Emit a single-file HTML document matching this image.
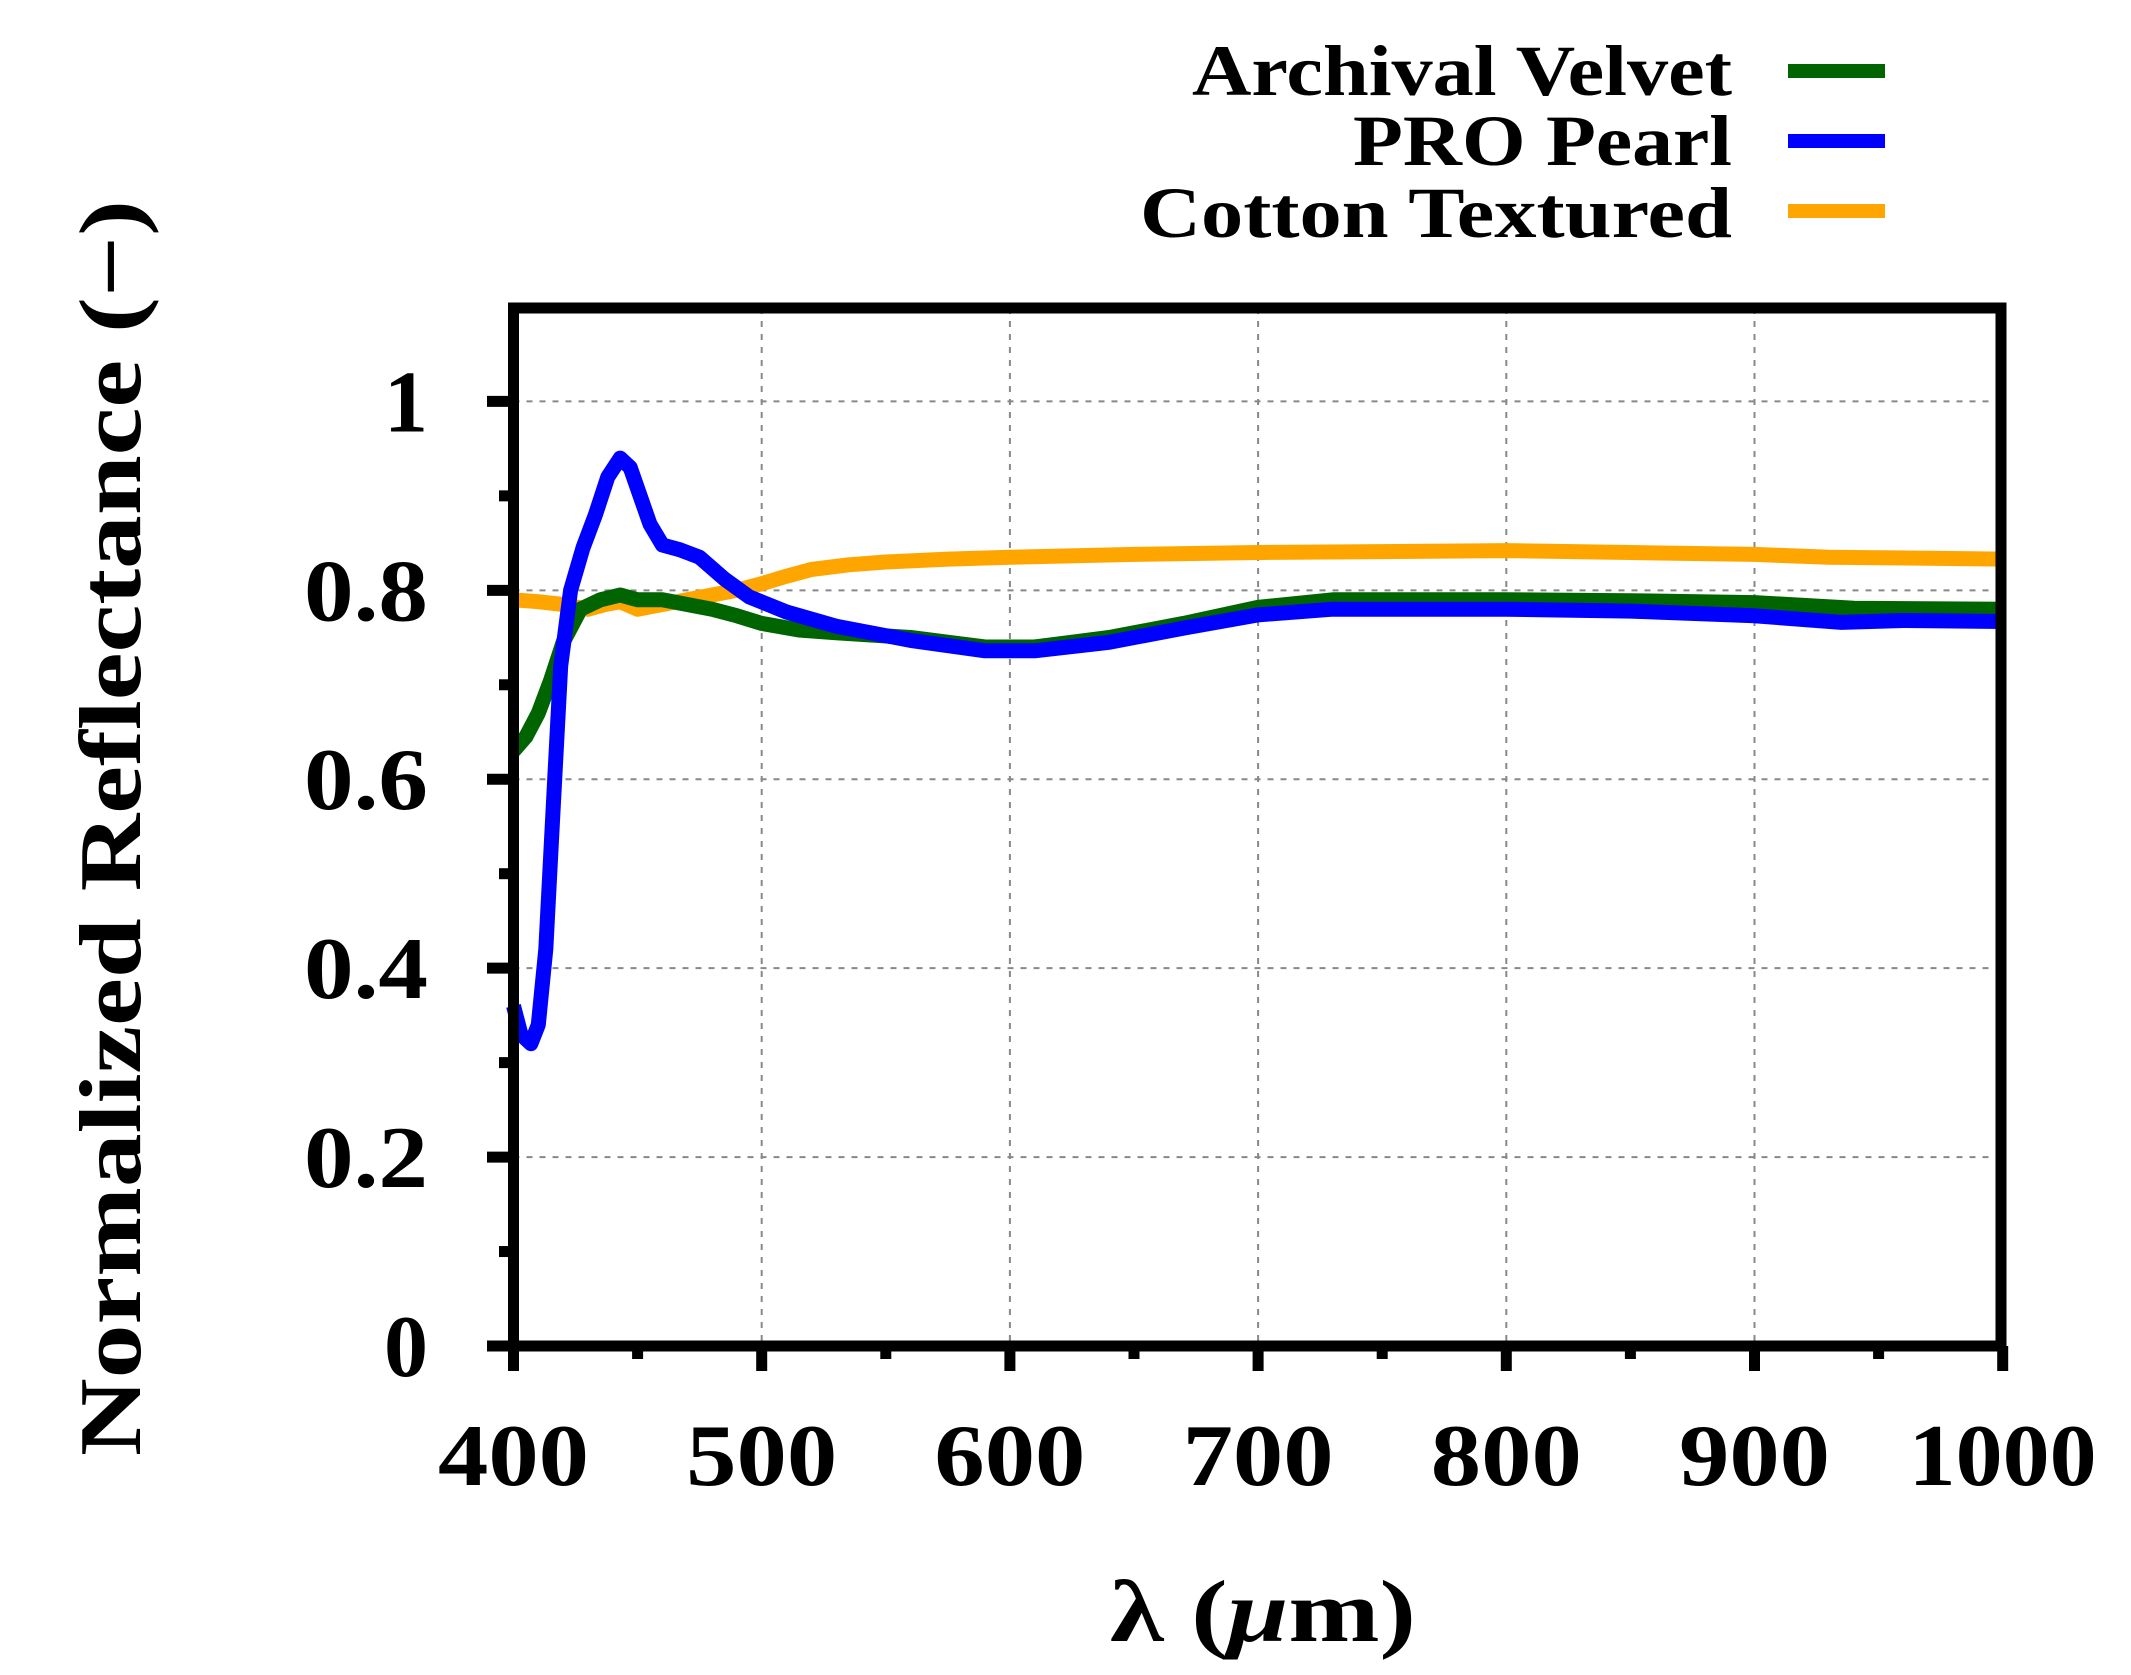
<!DOCTYPE html>
<html><head><meta charset="utf-8"><style>
html,body{margin:0;padding:0;background:#fff;}
svg{display:block;}
text{font-family:"Liberation Serif",serif;font-weight:bold;fill:#000;}
</style></head><body>
<svg id="s" width="2131" height="1675" viewBox="0 0 2131 1675" xmlns="http://www.w3.org/2000/svg">
<g id="grid" stroke="#888" stroke-width="2" stroke-dasharray="6,7" fill="none"></g>
<g id="series" fill="none" stroke-width="15" stroke-linejoin="round" stroke-linecap="butt"></g>
<rect x="513.5" y="308" width="1487.5" height="1038" fill="none" stroke="#000" stroke-width="11"/>
<g id="ticks" stroke="#000" stroke-width="11"></g>
<g id="labels" font-size="88"></g>
<g font-size="72" text-anchor="end">
<text x="1732" y="95" textLength="540" lengthAdjust="spacingAndGlyphs">Archival Velvet</text>
<text x="1732" y="165" textLength="379" lengthAdjust="spacingAndGlyphs">PRO Pearl</text>
<text x="1732" y="237" textLength="592" lengthAdjust="spacingAndGlyphs">Cotton Textured</text>
</g>
<line x1="1788" y1="71" x2="1885" y2="71" stroke="#006400" stroke-width="14"/>
<line x1="1788" y1="141" x2="1885" y2="141" stroke="#0000ff" stroke-width="14"/>
<line x1="1788" y1="211" x2="1885" y2="211" stroke="#ffa500" stroke-width="14"/>
<text x="1263" y="1641" font-size="88" text-anchor="middle" textLength="306" lengthAdjust="spacingAndGlyphs">λ (<tspan font-style="italic">μ</tspan>m)</text>
<text transform="translate(140,828) rotate(-90)" font-size="88" text-anchor="middle" textLength="1256" lengthAdjust="spacingAndGlyphs">Normalized Reflectance (−)</text>
</svg>
<script>
var NS="http://www.w3.org/2000/svg";
function X(w){return 513.5+(w-400)*2.482;}
function Y(r){return 1346-r*944.6;}
function el(p,t,a){var e=document.createElementNS(NS,t);for(var k in a)e.setAttribute(k,a[k]);document.getElementById(p).appendChild(e);return e;}
for(var w=500;w<1000;w+=100)el("grid","line",{x1:X(w),y1:308,x2:X(w),y2:1346});
for(var r=0.2;r<1.05;r+=0.2)el("grid","line",{x1:513.5,y1:Y(r),x2:2001,y2:Y(r)});
for(var w=400;w<=1000;w+=50){var maj=(w%100==0);el("ticks","line",{x1:X(w),y1:1346,x2:X(w),y2:maj?1371:1359});
 if(maj){var t=el("labels","text",{x:X(w),y:1485,"text-anchor":"middle",textLength:(w==1000?188:151),lengthAdjust:"spacingAndGlyphs"});t.textContent=w;}}
for(var i=0;i<=10;i++){var r=i/10,maj=(i%2==0);el("ticks","line",{x1:513.5,y1:Y(r),x2:maj?487:499,y2:Y(r)});
 if(maj){var a={x:428,y:Y(r)+30,"text-anchor":"end"};if(i>0&&i<10){a.textLength=124;a.lengthAdjust="spacingAndGlyphs";}
 var t=el("labels","text",a);t.textContent=(i==0?"0":i==10?"1":(r.toFixed(1)));}}
var D={
"#ffa500":[[400,0.79],[410,0.788],[420,0.785],[430,0.78],[437,0.785],[443,0.788],[450,0.78],[460,0.785],[470,0.79],[480,0.795],[490,0.8],[500,0.807],[510,0.815],[520,0.822],[535,0.827],[550,0.83],[575,0.833],[600,0.835],[650,0.838],[700,0.84],[750,0.841],[800,0.842],[850,0.84],[900,0.838],[930,0.835],[970,0.834],[1000,0.833]],
"#006400":[[400,0.63],[405,0.645],[410,0.67],[415,0.705],[420,0.745],[427,0.78],[435,0.79],[443,0.795],[450,0.79],[460,0.79],[470,0.785],[480,0.78],[490,0.773],[500,0.765],[515,0.758],[530,0.755],[560,0.75],[590,0.74],[610,0.74],[640,0.75],[670,0.765],[700,0.782],[730,0.79],[800,0.79],[850,0.789],[900,0.787],[940,0.781],[1000,0.78]],
"#0000ff":[[400,0.36],[403,0.33],[407,0.32],[410,0.34],[413,0.42],[416,0.57],[419,0.72],[423,0.8],[428,0.845],[433,0.88],[438,0.92],[443,0.94],[447,0.93],[451,0.9],[455,0.87],[460,0.848],[467,0.843],[475,0.835],[485,0.812],[495,0.793],[510,0.777],[530,0.762],[560,0.747],[590,0.736],[610,0.736],[640,0.745],[670,0.76],[700,0.774],[730,0.78],[800,0.78],[850,0.778],[900,0.773],[935,0.766],[960,0.768],[1000,0.767]]};
for(var c in D){var d="";D[c].forEach(function(p,i){d+=(i?"L":"M")+X(p[0]).toFixed(1)+","+Y(p[1]).toFixed(1);});el("series","path",{d:d,stroke:c});}
</script>
</body></html>
